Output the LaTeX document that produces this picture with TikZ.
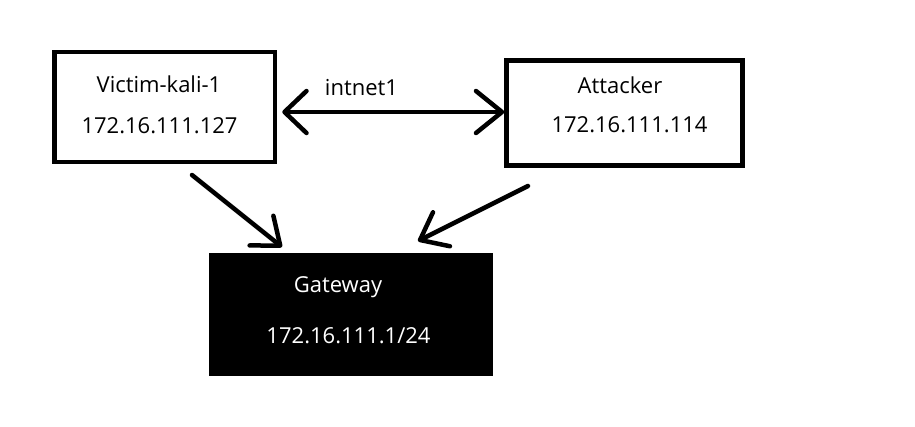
\documentclass[tikz,border=0pt]{standalone}
\usepackage{fontspec}
\setmainfont{Open Sans}
\usetikzlibrary{arrows.meta}
\begin{document}
\begin{tikzpicture}[x=1pt,y=-1pt,
  hostbox/.style={draw=black,line width=4.5pt,fill=white,minimum width=220pt,minimum height=110pt,inner sep=0pt},
  gwbox/.style={fill=black,minimum width=284pt,minimum height=123pt,inner sep=0pt},
  lbl/.style={anchor=base,inner sep=0pt,font=\fontsize{22}{26}\selectfont},
  conn/.style={line width=4.5pt,line cap=round,-{Straight Barb[length=24pt,width=38pt,round]}},
  biconn/.style={line width=4.5pt,line cap=round,{Straight Barb[length=22pt,width=42pt,round]}-{Straight Barb[length=26pt,width=42pt,round]}}]
\useasboundingbox[fill=white] (0,0) rectangle (915,426);
\node[hostbox,minimum width=220.5pt,minimum height=110pt] (victim) at (164.75,107) {};
\node[hostbox,minimum width=236pt,minimum height=105pt] (attacker) at (624.5,113) {};
\node[gwbox] (gw) at (351,314.5) {};
\node[lbl] (vname) at (159,92) {Victim-kali-1};
\node[lbl] (vip) at (159.5,133) {172.16.111.127};
\node[lbl] (aname) at (620,93) {Attacker};
\node[lbl] (aip) at (629.5,132) {172.16.111.114};
\node[lbl,text=white] (gname) at (338,292) {Gateway};
\node[lbl,text=white] (gip) at (348.5,343) {172.16.111.1/24};
\node[lbl] (net) at (361.5,95) {intnet1};
\coordinate (vout) at (192,175);
\coordinate (vin) at (282,247);
\coordinate (aout) at (528,186);
\coordinate (ain) at (418,241);
\draw[biconn] (victim.east |- 0,112) ++(5,0) coordinate (l) -- (attacker.west |- 0,112) coordinate (r);
\draw[conn] (vout) -- (vin);
\draw[conn] (aout) -- (ain);
\end{tikzpicture}
\end{document}
